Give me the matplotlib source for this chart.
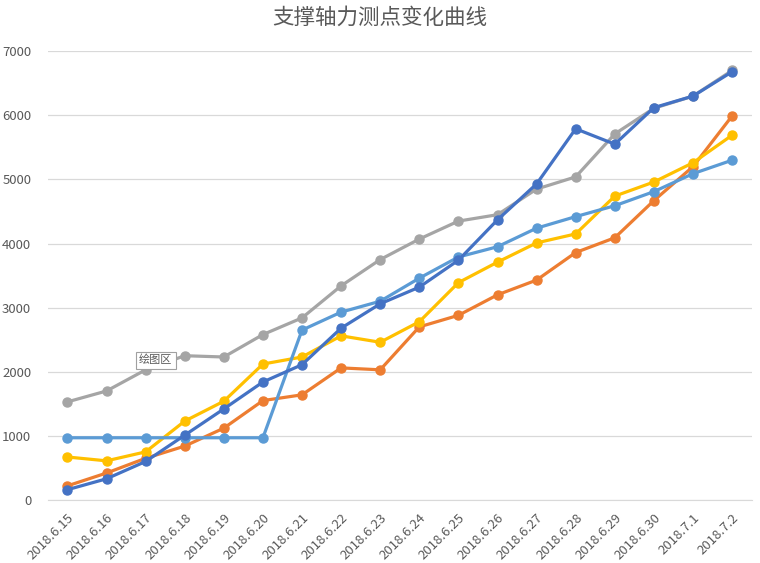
import matplotlib
matplotlib.use("Agg")
import matplotlib.pyplot as plt

plt.rcParams['font.family'] = ['Noto Sans CJK SC', 'DejaVu Sans']

# 测点日期
dates = ["2018.6.15", "2018.6.16", "2018.6.17", "2018.6.18", "2018.6.19",
         "2018.6.20", "2018.6.21", "2018.6.22", "2018.6.23", "2018.6.24",
         "2018.6.25", "2018.6.26", "2018.6.27", "2018.6.28", "2018.6.29",
         "2018.6.30", "2018.7.1", "2018.7.2"]

# 各测点轴力
gray_vals = [1530, 1700, 2030, 2250, 2230, 2580, 2840, 3340, 3750, 4070,
             4350, 4450, 4850, 5040, 5710, 6110, 6300, 6700]
orange_vals = [220, 420, 650, 840, 1120, 1550, 1640, 2060, 2030, 2700,
               2880, 3200, 3430, 3860, 4090, 4670, 5200, 5990]
yellow_vals = [670, 610, 750, 1230, 1540, 2120, 2230, 2560, 2460, 2780,
               3390, 3710, 4010, 4150, 4740, 4960, 5260, 5690]
lightblue_vals = [970, 970, 970, 970, 970, 970, 2650, 2930, 3100, 3460,
                  3790, 3950, 4240, 4420, 4590, 4810, 5090, 5300]
blue_vals = [160, 330, 600, 1010, 1420, 1840, 2110, 2680, 3060, 3320,
             3740, 4370, 4930, 5790, 5550, 6120, 6300, 6680]

series = [
    (gray_vals, "#A5A5A5"),
    (orange_vals, "#ED7D31"),
    (yellow_vals, "#FFC000"),
    (lightblue_vals, "#5B9BD5"),
    (blue_vals, "#4472C4"),
]

fig = plt.figure(figsize=(7.6, 5.63), dpi=100)
ax = fig.add_axes([0.063, 0.112, 0.926, 0.797])

x = list(range(len(dates)))
for vals, col in series:
    ax.plot(x, vals, color=col, lw=2.3, marker='o', ms=6.5, mec=col, mfc=col)

ax.set_xlim(-0.5, len(dates) - 0.5)
ax.set_ylim(0, 7000)
ax.set_yticks(range(0, 7001, 1000))
ax.set_xticks(x)
ax.set_xticklabels(dates, rotation=45, ha='right', rotation_mode='anchor')
ax.tick_params(axis='both', length=0, colors='#595959', labelsize=9.5)
ax.tick_params(axis='x', pad=8)
ax.tick_params(axis='y', pad=12)

ax.grid(axis='y', color='#D9D9D9', lw=0.9)
ax.set_axisbelow(True)
for s in ['top', 'right', 'left']:
    ax.spines[s].set_visible(False)
ax.spines['bottom'].set_color('#D9D9D9')

fig.text(0.5, 0.968, "支撑轴力测点变化曲线", ha='center', va='center',
         fontsize=15.5, color='#595959')

# Excel 提示框
ax.text(2.26, 2180, "绘图区", fontsize=8, color='#595959', ha='center', va='center',
        bbox=dict(boxstyle='square,pad=0.3', fc='white', ec='#A0A0A0', lw=0.8))

fig.savefig("out.png", dpi=100)
